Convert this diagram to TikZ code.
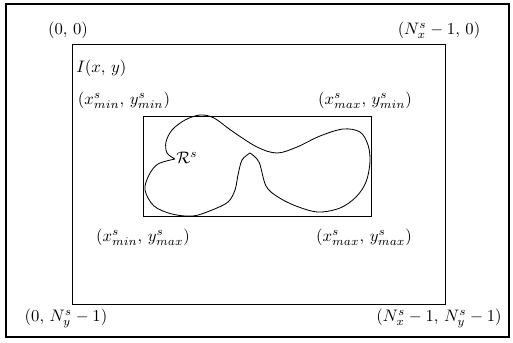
\documentclass[tikz,border=0pt]{standalone}
\usepackage{amsmath}
\usetikzlibrary{positioning}

\begin{document}
\begin{tikzpicture}[
x=0.6pt, y=-0.6pt,
frame/.style={draw, line width=0.5pt},
lbl/.style={inner sep=0pt, font=\normalsize}
]
\useasboundingbox (0,0) rectangle (513,342);

% outer frame and image
\draw[frame, line width=0.8pt] (6,4) rectangle (509,337);
\draw[frame] (72,44) rectangle (445,304);

% bounding rectangle of the region
\draw[frame] (143,116) rectangle (371,216);

% region outline
\draw[line width=0.5pt] plot[smooth, tension=0.55] coordinates {
(175,159) (167,153) (166,142) (172,130) (185,120) (200,115) (214,118)
(232,131) (257,147) (277,153) (297,147) (320,136) (343,129) (360,132)
(368,145) (370,162) (366,182) (356,197) (340,208) (318,212) (296,206)
(278,197) (266,186) (259,162) (250,153)}
plot[smooth, tension=0.55] coordinates {
(250,153) (242,160) (238,175) (235,190) (228,202) (212,210) (193,216)
(172,214) (154,206) (145,190) (149,175) (158,164) (175,159)};

% corner labels of the image
\node[lbl] (o) at (68,30) {$(0,\,0)$};
\node[lbl] (nx) at (439,30) {$(N^s_x-1,\,0)$};
\node[lbl] (ny) at (66,318) {$(0,\,N^s_y-1)$};
\node[lbl] (nxy) at (439,318) {$(N^s_x-1,\,N^s_y-1)$};
\node[lbl, anchor=west] (img) at (76,68) {$I(x,\,y)$};

% corner labels of the region box
\node[lbl] (mm) at (124,100) {$(x^s_{min},\,y^s_{min})$};
\node[lbl] (xm) at (365,100) {$(x^s_{max},\,y^s_{min})$};
\node[lbl] (mx) at (143,237) {$(x^s_{min},\,y^s_{max})$};
\node[lbl] (xx) at (364,237) {$(x^s_{max},\,y^s_{max})$};
\node[lbl, anchor=west] (reg) at (176,158) {$\mathcal{R}^s$};

\end{tikzpicture}
\end{document}
